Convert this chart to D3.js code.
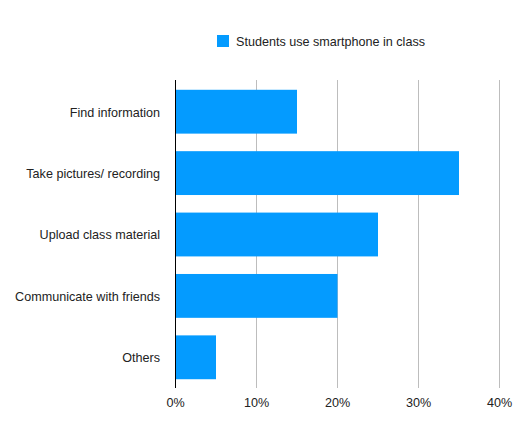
<!DOCTYPE html>
<html>
<head>
<meta charset="utf-8">
<script src="https://cdn.jsdelivr.net/npm/d3@7"></script>
<style>
  body { margin: 0; background: #fff; }
  text { font-family: "Liberation Sans", Arial, sans-serif; fill: #222; }
</style>
</head>
<body>
<script>
var categories = ["Find information", "Take pictures/ recording", "Upload class material", "Communicate with friends", "Others"];
var values = [15, 35, 25, 20, 5];
var ticks = [0, 10, 20, 30, 40];
var seriesName = "Students use smartphone in class";

var width = 529,
    height = 427,
    plotLeft = 175.5, plotRight = 499.5, plotTop = 80, plotBottom = 388,
    color = "#049bff";

var svg = d3.select("body").append("svg")
    .attr("width", width)
    .attr("height", height);

var x = d3.scaleLinear().domain([0, 40]).range([plotLeft, plotRight]);
var y = d3.scaleBand().domain(categories).range([plotTop + 1, plotBottom])
    .paddingInner(0.286).paddingOuter(0.143);

// grid lines
svg.append("g").selectAll("line")
    .data(ticks.slice(1))
  .enter().append("line")
    .attr("x1", function(d) { return x(d); })
    .attr("x2", function(d) { return x(d); })
    .attr("y1", plotTop)
    .attr("y2", plotBottom)
    .attr("stroke", "#bdbdbd")
    .attr("stroke-width", 1);

// bars
svg.append("g").selectAll("rect")
    .data(values)
  .enter().append("rect")
    .attr("x", x(0))
    .attr("y", function(d, i) { return y(categories[i]); })
    .attr("width", function(d) { return x(d) - x(0); })
    .attr("height", y.bandwidth())
    .attr("fill", color);

// zero axis line
svg.append("line")
    .attr("x1", x(0)).attr("x2", x(0))
    .attr("y1", plotTop).attr("y2", plotBottom)
    .attr("stroke", "#000")
    .attr("stroke-width", 1);

// x tick labels
svg.append("g").selectAll("text")
    .data(ticks)
  .enter().append("text")
    .attr("x", function(d) { return x(d); })
    .attr("y", 407)
    .attr("text-anchor", "middle")
    .attr("font-size", 12.6)
    .text(function(d) { return d + "%"; });

// category labels
svg.append("g").selectAll("text")
    .data(categories)
  .enter().append("text")
    .attr("x", 160)
    .attr("y", function(d) { return y(d) + y.bandwidth() / 2 + 0.5; })
    .attr("dy", "0.35em")
    .attr("text-anchor", "end")
    .attr("font-size", 12.6)
    .text(function(d) { return d; });

// legend
svg.append("rect")
    .attr("x", 217).attr("y", 35)
    .attr("width", 12).attr("height", 12)
    .attr("fill", color);
svg.append("text")
    .attr("x", 236).attr("y", 46)
    .attr("font-size", 12.6)
    .text(seriesName);
</script>
</body>
</html>
